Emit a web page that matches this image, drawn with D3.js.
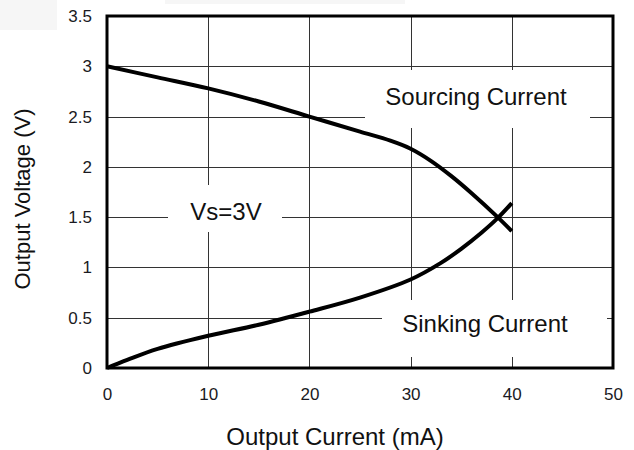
<!DOCTYPE html>
<html>
<head>
<meta charset="utf-8">
<script src="https://cdn.jsdelivr.net/npm/d3@7"></script>
<style>
  html, body { margin: 0; padding: 0; background: #fff; }
  svg { display: block; font-family: "Liberation Sans", Arial, sans-serif; }
</style>
</head>
<body>
<svg id="chart" width="634" height="450"></svg>
<script>
// ---- data ----
const xTicks = [0, 10, 20, 30, 40, 50];
const yTicks = [0, 0.5, 1, 1.5, 2, 2.5, 3, 3.5];
const xTickLabels = ["0", "10", "20", "30", "40", "50"];
const yTickLabels = ["0", "0.5", "1", "1.5", "2", "2.5", "3", "3.5"];

const sourcingI = [0, 5, 10, 15, 20, 25, 28, 30, 32, 34, 36, 38.6, 40];
const sourcingV = [3.0, 2.89, 2.78, 2.65, 2.5, 2.35, 2.26, 2.18, 2.06, 1.91, 1.74, 1.5, 1.36];

const sinkingI = [0, 2, 5, 10, 15, 20, 25, 30, 33, 35, 37, 38.6, 40];
const sinkingV = [0, 0.08, 0.19, 0.32, 0.43, 0.56, 0.7, 0.88, 1.045, 1.185, 1.345, 1.49, 1.64];

const annotations = ["Sourcing Current", "Sinking Current", "Vs=3V"];
const xTitle = "Output Current (mA)";
const yTitle = "Output Voltage (V)";

// ---- layout ----
const svg = d3.select("#chart");
const L = 107, R = 613, T = 16, B = 368;
const x = d3.scaleLinear().domain([0, 50]).range([L, R]);
const y = d3.scaleLinear().domain([0, 3.5]).range([B, T]);

// faint scan artefacts
svg.append("rect").attr("x", 0).attr("y", 0).attr("width", 57).attr("height", 30).attr("fill", "#f6f6f6");
svg.append("rect").attr("x", 165).attr("y", 0).attr("width", 240).attr("height", 4).attr("fill", "#f6f6f6");

// grid
const grid = svg.append("g").attr("stroke", "#333").attr("stroke-width", 1);
grid.selectAll("line.v").data(xTicks.slice(1, -1)).join("line")
  .attr("x1", d => Math.round(x(d)) + 0.5).attr("x2", d => Math.round(x(d)) + 0.5)
  .attr("y1", T).attr("y2", B);
grid.selectAll("line.h").data(yTicks.slice(1, -1)).join("line")
  .attr("y1", d => Math.round(y(d)) + 0.5).attr("y2", d => Math.round(y(d)) + 0.5)
  .attr("x1", L).attr("x2", R);

// white boxes behind annotation labels
const boxes = [
  { x0: 365, x1: 590, y0: 70, y1: 128, tx: 476, ty: 96, text: annotations[0] },
  { x0: 382, x1: 607, y0: 300, y1: 357, tx: 485, ty: 323, text: annotations[1] },
  { x0: 168, x1: 282, y0: 185, y1: 232, tx: 226, ty: 211, text: annotations[2] }
];
svg.selectAll("rect.box").data(boxes).join("rect")
  .attr("x", d => d.x0).attr("y", d => d.y0)
  .attr("width", d => d.x1 - d.x0).attr("height", d => d.y1 - d.y0)
  .attr("fill", "#fff");

// curves
const line = d3.line().x(d => x(d[0])).y(d => y(d[1])).curve(d3.curveCatmullRom.alpha(0.5));
const sourcing = sourcingI.map((v, i) => [v, sourcingV[i]]);
const sinking = sinkingI.map((v, i) => [v, sinkingV[i]]);
[sourcing, sinking].forEach(s => {
  svg.append("path").attr("d", line(s)).attr("fill", "none")
    .attr("stroke", "#000").attr("stroke-width", 4).attr("stroke-linecap", "butt");
});

// annotation text
svg.selectAll("text.ann").data(boxes).join("text")
  .attr("x", d => d.tx).attr("y", d => d.ty)
  .attr("text-anchor", "middle").attr("dominant-baseline", "central")
  .attr("font-size", 24).attr("fill", "#111").text(d => d.text);

// frame
svg.append("rect").attr("x", L).attr("y", T).attr("width", R - L).attr("height", B - T)
  .attr("fill", "none").attr("stroke", "#000").attr("stroke-width", 3);

// axes (labels only)
const xAxis = d3.axisBottom(x).tickValues(xTicks).tickFormat((d, i) => xTickLabels[i]).tickSize(0).tickPadding(20);
const gx = svg.append("g").attr("transform", `translate(0,${B})`).call(xAxis);
gx.select(".domain").remove();
gx.selectAll("text").attr("font-size", 17).attr("fill", "#1a1a22").attr("font-family", "Liberation Sans, Arial, sans-serif");

const yAxis = d3.axisLeft(y).tickValues(yTicks).tickFormat((d, i) => yTickLabels[i]).tickSize(0).tickPadding(15);
const gy = svg.append("g").attr("transform", `translate(${L},0)`).call(yAxis);
gy.select(".domain").remove();
gy.selectAll("text").attr("font-size", 17).attr("fill", "#1a1a22").attr("font-family", "Liberation Sans, Arial, sans-serif");

// titles
svg.append("text").attr("x", 335).attr("y", 436).attr("text-anchor", "middle")
  .attr("dominant-baseline", "central").attr("font-size", 24).attr("fill", "#111").text(xTitle);
svg.append("text").attr("transform", "translate(22,199) rotate(-90)").attr("text-anchor", "middle")
  .attr("dominant-baseline", "central").attr("font-size", 22).attr("fill", "#111").text(yTitle);
</script>
</body>
</html>
